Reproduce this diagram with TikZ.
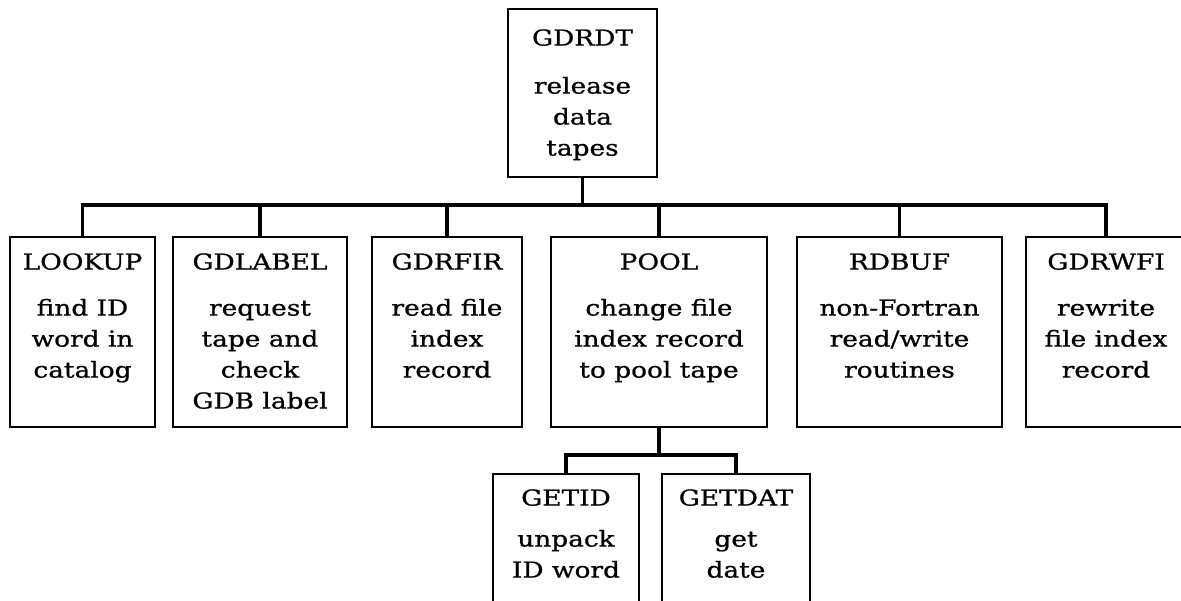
\documentclass[tikz,border=0pt]{standalone}
\usepackage{fontspec}
\newfontfamily\diafont[FakeStretch=1.2,FakeBold=0.8]{DejaVu Serif}
\newcommand\txtblk[3]{\begin{tabular}[t]{@{}c@{}}#1\\[#2]#3\end{tabular}}
\tikzset{
  modbox/.style 2 args={draw, line width=2.8pt, rectangle, inner sep=0pt,
    minimum width=#1, minimum height=#2},
  lbl/.style={anchor=base, inner sep=0pt,
    font=\diafont\fontsize{22}{31}\selectfont},
  conn/.style={line width=3.4pt}
}
\begin{document}
\begin{tikzpicture}[x=1pt,y=-1pt]
\clip (0,0) rectangle (1181,601);
\fill[white] (0,0) rectangle (1181,601);

% boxes
\node[modbox={149pt}{168pt}] (top) at (582.5,93) {};
\node[modbox={145pt}{190pt}] (lookup) at (82.5,332) {};
\node[modbox={174pt}{190pt}] (gdlabel) at (260,332) {};
\node[modbox={150pt}{190pt}] (gdrfir) at (447,332) {};
\node[modbox={216pt}{190pt}] (pool) at (659,332) {};
\node[modbox={205pt}{190pt}] (rdbuf) at (899.5,332) {};
\node[modbox={160pt}{190pt}] (gdrwfi) at (1106,332) {};
\node[modbox={146pt}{151pt}] (getid) at (566,549.5) {};
\node[modbox={148pt}{151pt}] (getdat) at (736,549.5) {};

% texts
\node[lbl] (top-t) at ([yshift=-38pt]top.north) {\txtblk{GDRDT}{17pt}{release\\data\\tapes}};
\node[lbl] (lookup-t) at ([yshift=-34pt]lookup.north) {\txtblk{LOOKUP}{15pt}{find ID\\word in\\catalog}};
\node[lbl] (gdlabel-t) at ([yshift=-34pt]gdlabel.north) {\txtblk{GDLABEL}{15pt}{request\\tape and\\check\\GDB label}};
\node[lbl] (gdrfir-t) at ([yshift=-34pt]gdrfir.north) {\txtblk{GDRFIR}{15pt}{read file\\index\\record}};
\node[lbl] (pool-t) at ([yshift=-34pt]pool.north) {\txtblk{POOL}{15pt}{change file\\index record\\to pool tape}};
\node[lbl] (rdbuf-t) at ([yshift=-34pt]rdbuf.north) {\txtblk{RDBUF}{15pt}{non-Fortran\\read/write\\routines}};
\node[lbl] (gdrwfi-t) at ([yshift=-34pt]gdrwfi.north) {\txtblk{GDRWFI}{15pt}{rewrite\\file index\\record}};
\node[lbl] (getid-t) at ([yshift=-33pt]getid.north) {\txtblk{GETID}{10pt}{unpack\\ID word}};
\node[lbl] (getdat-t) at ([yshift=-33pt]getdat.north) {\txtblk{GETDAT}{10pt}{get\\date}};

% connectors
\coordinate (bus) at (580,205);
\draw[conn] (top.south) -- (top.south |- bus);
\draw[conn] (lookup.north) |- (bus) -| (gdrwfi.north);
\foreach \n in {gdlabel,gdrfir,pool,rdbuf}
  \draw[conn] (\n.north) -- (\n.north |- bus);
\coordinate (sub) at (653,455);
\draw[conn] (pool.south) -- (pool.south |- sub);
\draw[conn] (getid.north) |- (sub) -| (getdat.north);
\end{tikzpicture}
\end{document}
